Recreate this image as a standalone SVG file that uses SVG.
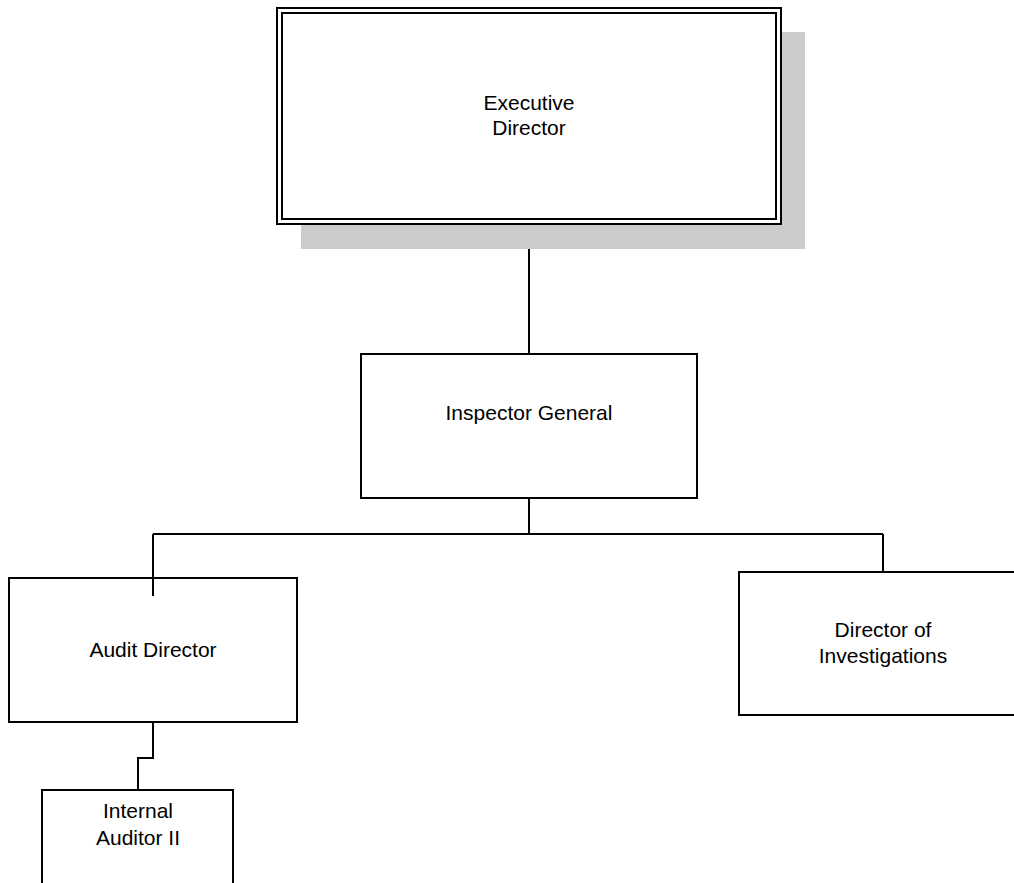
<svg xmlns="http://www.w3.org/2000/svg" width="1014" height="883" viewBox="0 0 1014 883">
<style>
.box{fill:#fff;stroke:#000;stroke-width:2}
.inner{fill:none;stroke:#000;stroke-width:2}
.shadow{fill:#cccccc;stroke:none}
.conn{fill:none;stroke:#000;stroke-width:2}
.lbl{font-family:"Liberation Sans",Arial,sans-serif;font-size:21px;fill:#000;text-anchor:middle}
</style>
<rect width="1014" height="883" fill="#fff"/>
<g id="connectors">
<path class="conn" d="M529 224 V354"/>
<path class="conn" d="M529 498 V534 M153 534 H883 M153 534 V596 M883 534 V572"/>
<path class="conn" d="M153 722 V758 H138 V790"/>
</g>
<g id="executive-director">
<rect class="shadow" x="301" y="32" width="504" height="217"/>
<rect class="box" x="277" y="8" width="504" height="216"/>
<rect class="inner" x="282" y="13" width="494" height="206"/>
<text class="lbl" x="529" y="110">Executive</text>
<text class="lbl" x="529" y="135">Director</text>
</g>
<g id="inspector-general">
<rect class="box" x="361" y="354" width="336" height="144"/>
<text class="lbl" x="529" y="420">Inspector General</text>
</g>
<g id="audit-director">
<rect class="box" x="9" y="578" width="288" height="144" style="fill:none"/>
<text class="lbl" x="153" y="657">Audit Director</text>
</g>
<g id="director-of-investigations">
<rect class="box" x="739" y="572" width="300" height="143"/>
<text class="lbl" x="883" y="637">Director of</text>
<text class="lbl" x="883" y="663">Investigations</text>
</g>
<g id="internal-auditor-ii">
<rect class="box" x="42" y="790" width="191" height="120"/>
<text class="lbl" x="138" y="818">Internal</text>
<text class="lbl" x="138" y="845">Auditor II</text>
</g>
</svg>
